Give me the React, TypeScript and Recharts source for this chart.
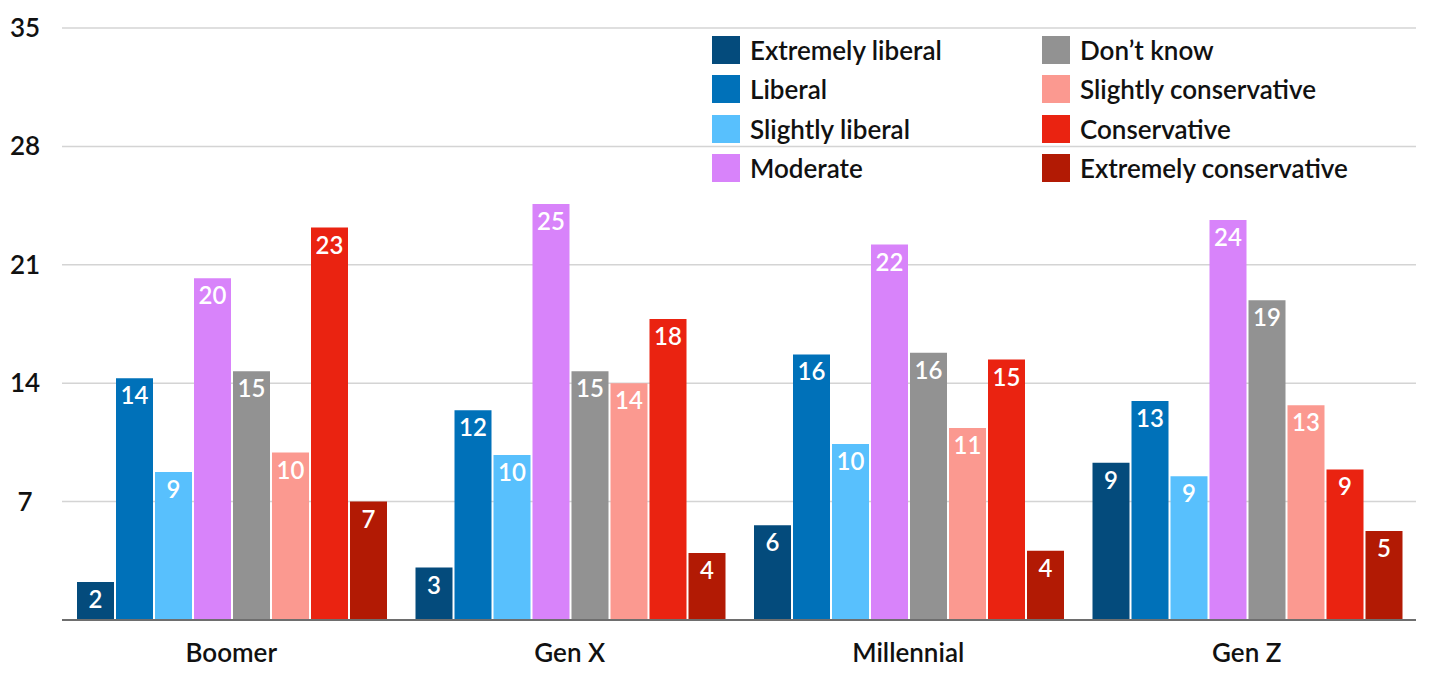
import { BarChart, Bar, XAxis, YAxis, CartesianGrid, LabelList } from "recharts";

// generations on the x axis
const generations = ["Boomer", "Gen X", "Millennial", "Gen Z"];

// share (%) per ideology, one value per generation
const extremelyLiberal = [2.25, 3.1, 5.6, 9.3];
const liberal = [14.3, 12.4, 15.7, 12.95];
const slightlyLiberal = [8.75, 9.75, 10.4, 8.5];
const moderate = [20.2, 24.6, 22.2, 23.65];
const dontKnow = [14.7, 14.7, 15.8, 18.9];
const slightlyConservative = [9.9, 14.0, 11.35, 12.7];
const conservative = [23.2, 17.8, 15.4, 8.9];
const extremelyConservative = [7.0, 3.96, 4.1, 5.26];

const yTicks = [0, 7, 14, 21, 28, 35];

const SERIES = [
  { key: "el", name: "Extremely liberal", values: extremelyLiberal, color: "#044b7c" },
  { key: "l", name: "Liberal", values: liberal, color: "#0071b9" },
  { key: "sl", name: "Slightly liberal", values: slightlyLiberal, color: "#58c0fd" },
  { key: "m", name: "Moderate", values: moderate, color: "#d883fa" },
  { key: "dk", name: "Don\u2019t know", values: dontKnow, color: "#929292" },
  { key: "sc", name: "Slightly conservative", values: slightlyConservative, color: "#fb9990" },
  { key: "c", name: "Conservative", values: conservative, color: "#ea2311" },
  { key: "ec", name: "Extremely conservative", values: extremelyConservative, color: "#b21a04" },
];

const FONT = "Lato, 'Open Sans', sans-serif";

const chartData = generations.map((g, i) => {
  const row: any = { gen: g };
  SERIES.forEach((s) => {
    row[s.key] = s.values[i];
  });
  return row;
});

function YTick({ y, payload }: any) {
  if (payload.value === 0) return null;
  return (
    <text x={17} y={y} dy={9} textAnchor="middle" fontFamily={FONT} fontSize={26} fontWeight={600} fill="#111">
      {payload.value}
    </text>
  );
}

function XTick({ x, y, payload }: any) {
  return (
    <text x={x} y={y} dy={34} textAnchor="middle" fontFamily={FONT} fontSize={26} fontWeight={600} fill="#111">
      {payload.value}
    </text>
  );
}

function BarValue({ x, y, width, value }: any) {
  return (
    <text x={x + width / 2} y={y} dy={26} textAnchor="middle" fontFamily={FONT} fontSize={24} fontWeight={600} fill="#fff">
      {Math.round(value)}
    </text>
  );
}

// legend drawn as an overlay so it does not shrink the plot
function LegendBox() {
  const cols = [SERIES.slice(0, 4), SERIES.slice(4)];
  return (
    <div
      style={{
        position: "absolute",
        left: 704,
        top: 22,
        display: "flex",
        fontFamily: FONT,
        fontSize: 26,
        fontWeight: 600,
        color: "#111",
      }}
    >
      {cols.map((col, ci) => (
        <div key={ci} style={{ width: ci === 0 ? 330 : 370 }}>
          {col.map((s) => (
            <div key={s.key} style={{ display: "flex", alignItems: "center", height: 39.5, whiteSpace: "nowrap" }}>
              <span style={{ width: 28, height: 28, background: s.color, marginRight: 10, flex: "none" }} />
              <span>{s.name}</span>
            </div>
          ))}
        </div>
      ))}
    </div>
  );
}

export default function App() {
  return (
    <div style={{ position: "relative", width: 1414, height: 669, background: "#fff" }}>
      <BarChart
        width={1414}
        height={669}
        data={chartData}
        margin={{ top: 20, right: 6, bottom: 17, left: 0 }}
        barCategoryGap={15}
        barGap={2}
      >
        <CartesianGrid vertical={false} stroke="#d4d4d4" strokeWidth={1.5} />
        <XAxis
          dataKey="gen"
          axisLine={{ stroke: "#6e6e6e", strokeWidth: 2 }}
          tickLine={false}
          tick={<XTick />}
          height={40}
        />
        <YAxis
          domain={[0, 35]}
          ticks={yTicks}
          axisLine={false}
          tickLine={false}
          width={54}
          tick={<YTick />}
        />
        {SERIES.map((s) => (
          <Bar key={s.key} dataKey={s.key} name={s.name} fill={s.color} isAnimationActive={false}>
            <LabelList dataKey={s.key} content={<BarValue />} />
          </Bar>
        ))}
      </BarChart>
      <LegendBox />
    </div>
  );
}
